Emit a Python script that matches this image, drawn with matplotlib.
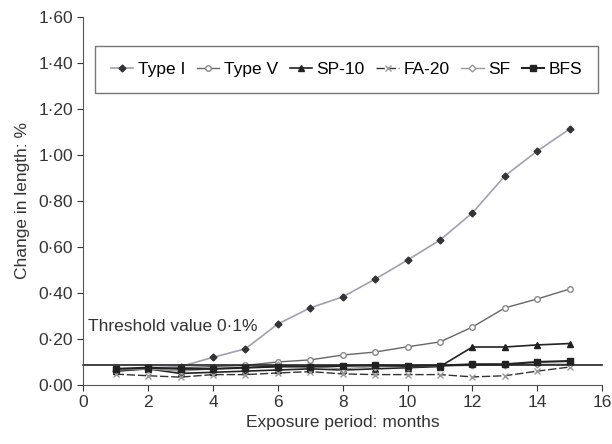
import numpy as np
import matplotlib.pyplot as plt
from matplotlib.ticker import FuncFormatter

plt.rcParams['font.family'] = ['Liberation Sans', 'DejaVu Sans']

months = np.arange(1, 16)

type_i = [0.06, 0.075, 0.08, 0.12, 0.157, 0.265, 0.335, 0.383, 0.46, 0.543, 0.63, 0.748, 0.909, 1.017, 1.113]
type_v = [0.065, 0.07, 0.075, 0.08, 0.085, 0.10, 0.109, 0.13, 0.143, 0.166, 0.187, 0.252, 0.335, 0.374, 0.417]
sp_10 = [0.06, 0.07, 0.05, 0.055, 0.06, 0.065, 0.07, 0.065, 0.07, 0.075, 0.08, 0.165, 0.165, 0.174, 0.18]
fa_20 = [0.047, 0.04, 0.034, 0.045, 0.045, 0.052, 0.058, 0.048, 0.045, 0.045, 0.045, 0.035, 0.04, 0.06, 0.078]
sf = [0.065, 0.07, 0.06, 0.07, 0.075, 0.085, 0.08, 0.07, 0.08, 0.08, 0.082, 0.085, 0.088, 0.09, 0.09]
bfs = [0.07, 0.075, 0.07, 0.07, 0.075, 0.08, 0.08, 0.083, 0.085, 0.083, 0.084, 0.09, 0.09, 0.10, 0.104]

threshold = 0.085

fig = plt.figure(figsize=(6.12, 4.44), dpi=100)
ax = fig.add_axes([0.136, 0.133, 0.848, 0.829])

ax.plot(months, type_i, color='#a0a0b4', lw=1.2, marker='D', ms=3.5,
        mfc='#333333', mec='#333333', label='Type I')
ax.plot(months, type_v, color='#666666', lw=1.0, marker='o', ms=4,
        mfc='white', mec='#888888', label='Type V')
ax.plot(months, sp_10, color='#222222', lw=1.2, marker='^', ms=4,
        mfc='#222222', mec='#222222', label='SP-10')
ax.plot(months, fa_20, color='#333333', lw=1.0, marker='x', ms=4,
        mec='#999999', dashes=(6, 2), label='FA-20')
ax.plot(months, sf, color='#999999', lw=1.0, marker='D', ms=3.5,
        mfc='white', mec='#999999', label='SF')
ax.plot(months, bfs, color='#222222', lw=1.5, marker='s', ms=4,
        mfc='#222222', mec='#222222', label='BFS')

ax.axhline(threshold, color='#222222', lw=1.2, clip_on=False)
ax.text(0.15, threshold + 0.15, 'Threshold value 0\u00b71%', fontsize=12.5, color='#333333')

ax.set_xlim(0, 16)
ax.set_ylim(0, 1.6)
ax.set_xticks(np.arange(0, 17, 2))
ax.set_yticks(np.arange(0, 1.61, 0.2))
ax.yaxis.set_major_formatter(FuncFormatter(lambda v, p: f'{v:.2f}'.replace('.', '\u00b7')))
ax.tick_params(labelsize=12.5, colors='#333333', length=4)

ax.spines['top'].set_visible(False)
ax.spines['right'].set_visible(False)
for s in ['left', 'bottom']:
    ax.spines[s].set_color('#555555')

ax.set_xlabel('Exposure period: months', fontsize=12.5, color='#333333', labelpad=3)
ax.set_ylabel('Change in length: %', fontsize=12.5, color='#333333', labelpad=6)

leg = ax.legend(ncol=6, loc='center', bbox_to_anchor=(0.023, 0.788, 0.969, 0.139),
                mode='expand', fontsize=12.5, frameon=True, fancybox=False,
                handlelength=1.3, handletextpad=0.25, columnspacing=0.3,
                borderpad=0.9, edgecolor='#555555', borderaxespad=0)
leg.get_frame().set_linewidth(1.0)

fig.savefig('out.png', dpi=100)
